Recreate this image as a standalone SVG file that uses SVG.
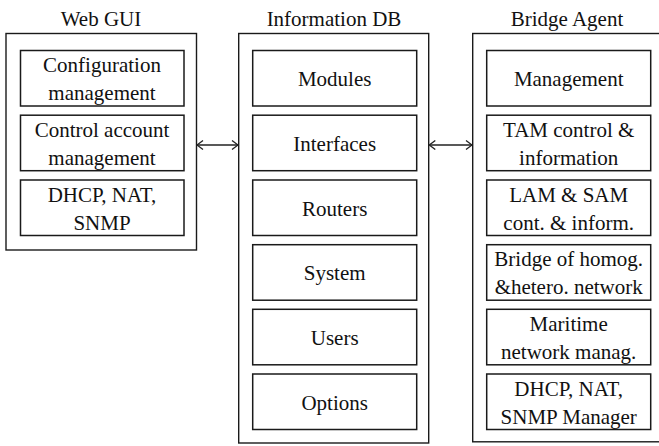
<svg xmlns="http://www.w3.org/2000/svg" width="659" height="446" viewBox="0 0 659 446">
<style>
.o{fill:none;stroke:#1a1a1a;stroke-width:1.4}
.b{fill:#fff;stroke:#1a1a1a;stroke-width:1.5}
.c{fill:none;stroke:#222;stroke-width:1.3}
text{font-family:"Liberation Serif","Times New Roman",serif;font-size:21px;fill:#111;text-anchor:middle}
</style>
<defs>
<marker id="ah" viewBox="0 0 10 10" refX="9" refY="5" markerWidth="10" markerHeight="10" markerUnits="userSpaceOnUse" orient="auto-start-reverse">
<path d="M3,0.5 L9,5 L3,9.5" fill="none" stroke="#222" stroke-width="1.3"/>
</marker>
</defs>
<g id="webgui">
<text x="101" y="26">Web GUI</text>
<rect class="o" x="6" y="33.5" width="190.5" height="216.5"/>
<rect class="b" x="20.5" y="50.5" width="163.5" height="55.5"/>
<text x="102" y="72">Configuration</text><text x="102" y="100">management</text>
<rect class="b" x="20.5" y="115.2" width="163.5" height="55.5"/>
<text x="102" y="136.7">Control account</text><text x="102" y="164.7">management</text>
<rect class="b" x="20.5" y="180" width="163.5" height="55.5"/>
<text x="102" y="201.5">DHCP, NAT,</text><text x="102" y="229.5">SNMP</text>
</g>
<g id="infodb">
<text x="334" y="26">Information DB</text>
<rect class="o" x="238.7" y="33.5" width="190" height="409.5"/>
<rect class="b" x="252.7" y="50.5" width="164" height="55.5"/>
<text x="334.7" y="86">Modules</text>
<rect class="b" x="252.7" y="115.2" width="164" height="55.5"/>
<text x="334.7" y="150.7">Interfaces</text>
<rect class="b" x="252.7" y="180" width="164" height="55.5"/>
<text x="334.7" y="215.5">Routers</text>
<rect class="b" x="252.7" y="244.7" width="164" height="55.5"/>
<text x="334.7" y="280.2">System</text>
<rect class="b" x="252.7" y="309.3" width="164" height="55.5"/>
<text x="334.7" y="344.8">Users</text>
<rect class="b" x="252.7" y="374" width="164" height="55.5"/>
<text x="334.7" y="409.5">Options</text>
</g>
<g id="bridge">
<text x="567" y="26">Bridge Agent</text>
<rect class="o" x="472.7" y="33.5" width="200" height="408.3"/>
<rect class="b" x="486.7" y="50.5" width="164" height="55.5"/>
<text x="568.7" y="86">Management</text>
<rect class="b" x="486.7" y="115.2" width="164" height="55.5"/>
<text x="568.7" y="136.7">TAM control &amp;</text><text x="568.7" y="164.7">information</text>
<rect class="b" x="486.7" y="180" width="164" height="55.5"/>
<text x="568.7" y="201.5">LAM &amp; SAM</text><text x="568.7" y="229.5">cont. &amp; inform.</text>
<rect class="b" x="486.7" y="244.7" width="164" height="55.5"/>
<text x="568.7" y="266.2">Bridge of homog.</text><text x="568.7" y="294.2">&amp;hetero. network</text>
<rect class="b" x="486.7" y="309.3" width="164" height="55.5"/>
<text x="568.7" y="330.8">Maritime</text><text x="568.7" y="358.8">network manag.</text>
<rect class="b" x="486.7" y="374" width="164" height="55.5"/>
<text x="568.7" y="395.5">DHCP, NAT,</text><text x="568.7" y="423.5">SNMP Manager</text>
</g>
<g id="connectors">
<line class="c" x1="197" y1="145" x2="238" y2="145" marker-start="url(#ah)" marker-end="url(#ah)"/>
<line class="c" x1="429.3" y1="145" x2="472" y2="145" marker-start="url(#ah)" marker-end="url(#ah)"/>
</g>
</svg>
